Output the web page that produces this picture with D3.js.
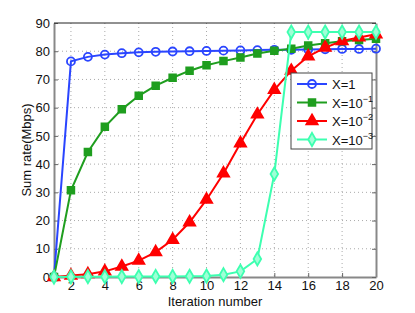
<!DOCTYPE html>
<html>
<head>
<meta charset="utf-8">
<script src="https://cdn.jsdelivr.net/npm/d3@7"></script>
<style>
body { margin: 0; background: #fff; }
text { font-family: "Liberation Sans", Arial, sans-serif; }
</style>
</head>
<body>
<div id="chart"></div>
<script>
// data
var iterations = d3.range(1, 21);
var rateX1 = [0, 76.4, 78.0, 78.8, 79.3, 79.6, 79.8, 79.9, 80.0, 80.1, 80.2, 80.3, 80.4, 80.5, 80.5, 80.6, 80.7, 80.8, 80.8, 80.9];
var rateX01 = [0, 30.7, 44.3, 53.2, 59.4, 64.2, 67.8, 70.6, 73.1, 75.0, 76.5, 77.8, 79.2, 80.2, 80.9, 82.0, 82.8, 83.5, 84.0, 84.4];
var rateX001 = [0, 0.5, 1.0, 2.0, 3.7, 5.8, 8.8, 13.2, 19.4, 27.4, 36.7, 47.4, 57.6, 66.3, 73.1, 78.2, 81.3, 83.6, 84.9, 86.0];
var rateX0001 = [0, 0.05, 0.1, 0.1, 0.15, 0.15, 0.2, 0.2, 0.25, 0.35, 0.8, 2.0, 6.4, 36.5, 86.8, 86.8, 86.8, 86.8, 86.8, 86.8];
var xTicks = [2, 4, 6, 8, 10, 12, 14, 16, 18, 20];
var yTicks = d3.range(0, 100, 10);

var series = [
    {name: "X=1", exp: null, values: rateX1, color: "#2a45ff", marker: "circle"},
    {name: "X=10", exp: "\u22121", values: rateX01, color: "#1f9e1f", marker: "square"},
    {name: "X=10", exp: "\u22122", values: rateX001, color: "#ff0000", marker: "triangle"},
    {name: "X=10", exp: "\u22123", values: rateX0001, color: "#3dffb0", marker: "diamond"}
];

var W = 415, H = 313;
var margin = {left: 54, right: 39, top: 23, bottom: 36},
    width = W - margin.left - margin.right,
    height = H - margin.top - margin.bottom;

var svg = d3.select("#chart")
    .append("svg")
    .attr("width", W)
    .attr("height", H);

var g = svg.append("g")
    .attr("transform", "translate(" + margin.left + "," + margin.top + ")");

var x = d3.scaleLinear().domain([1, 20]).range([0, width]);
var y = d3.scaleLinear().domain([0, 90]).range([height, 0]);

// grid
g.append("g").selectAll("line")
    .data(xTicks.slice(0, -1))
    .enter().append("line")
    .attr("x1", d => x(d)).attr("x2", d => x(d))
    .attr("y1", 0).attr("y2", height)
    .attr("stroke", "#aaa").attr("stroke-dasharray", "1,3");
g.append("g").selectAll("line")
    .data(yTicks.slice(1, -1))
    .enter().append("line")
    .attr("x1", 0).attr("x2", width)
    .attr("y1", d => y(d)).attr("y2", d => y(d))
    .attr("stroke", "#aaa").attr("stroke-dasharray", "1,3");

// axes
var xAxis = g.append("g")
    .attr("transform", "translate(0," + height + ")")
    .call(d3.axisBottom(x).tickValues(xTicks).tickSizeInner(-4).tickSizeOuter(0).tickPadding(4));
var yAxis = g.append("g")
    .call(d3.axisLeft(y).tickValues(yTicks).tickSizeInner(-4).tickSizeOuter(0).tickPadding(4));
g.append("g")
    .attr("transform", "translate(" + width + ",0)")
    .call(d3.axisRight(y).tickValues(yTicks).tickSizeInner(-4).tickSizeOuter(0).tickFormat(""));
[xAxis, yAxis].forEach(function (a) {
    a.selectAll("text").attr("font-size", 13).attr("fill", "#111");
});
g.selectAll(".domain").attr("stroke", "#888").attr("stroke-width", 2);
g.selectAll(".tick line").attr("stroke", "#666");
g.append("line")
    .attr("x1", 0).attr("x2", width).attr("y1", 0).attr("y2", 0)
    .attr("stroke", "#222").attr("stroke-width", 1);

// markers
function markerPath(type, size) {
    var sym = {circle: d3.symbolCircle, square: d3.symbolSquare, triangle: d3.symbolTriangle, diamond: d3.symbolDiamond}[type];
    return d3.symbol().type(sym).size(size)();
}
var markerSize = {circle: 50, square: 45, triangle: 55, diamond: 50};

var line = d3.line()
    .x((d, i) => x(iterations[i]))
    .y(d => y(d));

series.forEach(function (s) {
    var sg = g.append("g");
    sg.append("path")
        .datum(s.values)
        .attr("d", line)
        .attr("fill", "none")
        .attr("stroke", s.color)
        .attr("stroke-width", 2);
    sg.selectAll("path.m")
        .data(s.values)
        .enter().append("path")
        .attr("class", "m")
        .attr("transform", (d, i) => "translate(" + x(iterations[i]) + "," + y(d) + ")")
        .attr("d", markerPath(s.marker, markerSize[s.marker]))
        .attr("fill", s.marker === "circle" ? "none" : (s.marker === "diamond" ? "#9fffd6" : s.color))
        .attr("stroke", s.color)
        .attr("stroke-width", 1.8);
});

// legend
var lg = svg.append("g").attr("transform", "translate(291,73)");
lg.append("rect")
    .attr("width", 81).attr("height", 76)
    .attr("fill", "#fff").attr("stroke", "#444").attr("stroke-width", 1);
series.forEach(function (s, i) {
    var ly = 11 + i * 18.5;
    lg.append("line")
        .attr("x1", 6).attr("x2", 36).attr("y1", ly).attr("y2", ly)
        .attr("stroke", s.color).attr("stroke-width", 2);
    lg.append("path")
        .attr("transform", "translate(21," + ly + ")")
        .attr("d", markerPath(s.marker, markerSize[s.marker]))
        .attr("fill", s.marker === "circle" ? "none" : (s.marker === "diamond" ? "#9fffd6" : s.color))
        .attr("stroke", s.color).attr("stroke-width", 1.8);
    var t = lg.append("text")
        .attr("x", 41).attr("y", ly + 5)
        .attr("font-size", 13).attr("fill", "#111")
        .text(s.name);
    if (s.exp) {
        t.append("tspan").attr("dy", -6).attr("font-size", 9).text(s.exp);
    }
});

// axis labels
svg.append("text")
    .attr("x", margin.left + width / 2).attr("y", 306)
    .attr("text-anchor", "middle").attr("font-size", 13).attr("fill", "#111")
    .text("Iteration number");
svg.append("text")
    .attr("transform", "translate(31," + (margin.top + height / 2) + ") rotate(-90)")
    .attr("text-anchor", "middle").attr("font-size", 13).attr("fill", "#111")
    .text("Sum rate(Mbps)");
</script>
</body>
</html>
